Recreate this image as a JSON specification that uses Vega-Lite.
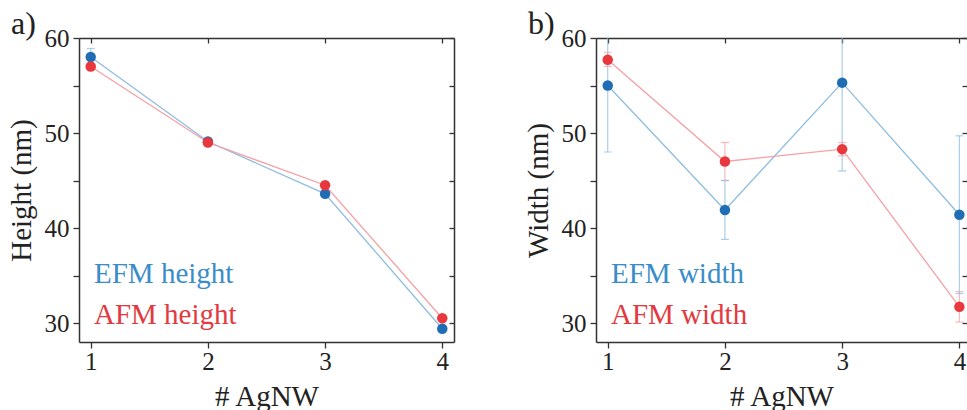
{
  "$schema": "https://vega.github.io/schema/vega-lite/v6.json",
  "background": "white",
  "padding": {"left": 7, "top": 8, "right": 0, "bottom": 0},
  "spacing": 69,
  "config": {
    "font": "Liberation Serif",
    "view": {"stroke": null},
    "axis": {
      "grid": false,
      "domainColor": "#333333",
      "domainWidth": 1.5,
      "tickColor": "#333333",
      "tickWidth": 1.3,
      "labelFont": "Liberation Serif",
      "labelFontSize": 25,
      "labelColor": "#222222",
      "titleFont": "Liberation Serif",
      "titleFontSize": 29,
      "titleFontWeight": "normal",
      "titleColor": "#222222"
    },
    "title": {"font": "Liberation Serif", "fontSize": 32, "fontWeight": "normal", "color": "#222222", "anchor": "start", "frame": "bounds", "offset": -15, "dx": 4}
  },
  "datasets": {
    "heights": [
      {"n": 1, "series": "EFM height", "value": 58.0, "lo": 57.1, "hi": 58.9},
      {"n": 2, "series": "EFM height", "value": 49.1, "lo": 48.8, "hi": 49.4},
      {"n": 3, "series": "EFM height", "value": 43.6, "lo": 43.3, "hi": 43.9},
      {"n": 4, "series": "EFM height", "value": 29.4, "lo": 29.1, "hi": 29.7},
      {"n": 1, "series": "AFM height", "value": 57.0, "lo": 56.8, "hi": 57.2},
      {"n": 2, "series": "AFM height", "value": 49.0, "lo": 48.8, "hi": 49.2},
      {"n": 3, "series": "AFM height", "value": 44.5, "lo": 44.3, "hi": 44.7},
      {"n": 4, "series": "AFM height", "value": 30.5, "lo": 30.3, "hi": 30.7}
    ],
    "widths": [
      {"n": 1, "series": "EFM width", "value": 55.0, "lo": 48.0, "hi": 62.0},
      {"n": 2, "series": "EFM width", "value": 41.9, "lo": 38.8, "hi": 45.0},
      {"n": 3, "series": "EFM width", "value": 55.3, "lo": 46.0, "hi": 64.6},
      {"n": 4, "series": "EFM width", "value": 41.4, "lo": 33.1, "hi": 49.7},
      {"n": 1, "series": "AFM width", "value": 57.7, "lo": 57.0, "hi": 58.5},
      {"n": 2, "series": "AFM width", "value": 47.0, "lo": 45.0, "hi": 49.0},
      {"n": 3, "series": "AFM width", "value": 48.3, "lo": 47.6, "hi": 49.0},
      {"n": 4, "series": "AFM width", "value": 31.7, "lo": 30.1, "hi": 33.3}
    ]
  },
  "hconcat": [
    {
      "title": "a)",
      "width": 375,
      "height": 304,
      "data": {"name": "heights"},
      "resolve": {"axis": {"x": "independent", "y": "independent"}},
      "layer": [
        {
          "mark": {"type": "rule", "strokeWidth": 1.2, "clip": true, "opacity": 0.75},
          "encoding": {
            "x": {"field": "n", "type": "quantitative", "axis": null, "scale": {"domain": [0.9, 4.1], "nice": false, "zero": false}},
            "y": {"field": "lo", "type": "quantitative", "axis": null, "scale": {"domain": [28, 60], "nice": false, "zero": false}},
            "y2": {"field": "hi"},
            "stroke": {"field": "series", "type": "nominal", "legend": null, "scale": {"domain": ["AFM height", "EFM height"], "range": ["#f5a0a5", "#8dbde0"]}}
          }
        },
        {
          "mark": {"type": "tick", "thickness": 1.2, "size": 8, "orient": "horizontal", "clip": true, "opacity": 0.75},
          "encoding": {
            "x": {"field": "n", "type": "quantitative", "axis": null},
            "y": {"field": "hi", "type": "quantitative", "axis": null},
            "fill": {"field": "series", "type": "nominal", "legend": null, "scale": {"domain": ["AFM height", "EFM height"], "range": ["#f5a0a5", "#8dbde0"]}}
          }
        },
        {
          "mark": {"type": "line", "strokeWidth": 1.3},
          "encoding": {
            "x": {"field": "n", "type": "quantitative", "title": "# AgNW",
              "axis": {"orient": "bottom", "values": [1, 2, 3, 4], "tickSize": 6, "labelPadding": 1, "titlePadding": 8}},
            "y": {"field": "value", "type": "quantitative", "title": "Height (nm)",
              "axis": {"orient": "left", "values": [30, 35, 40, 45, 50, 55, 60], "labelExpr": "datum.value % 10 == 0 ? datum.label : ''", "tickSize": 6, "labelPadding": 4, "titlePadding": 8}},
            "stroke": {"field": "series", "type": "nominal", "legend": null}
          }
        },
        {
          "mark": {"type": "point", "filled": true, "opacity": 1, "size": 110},
          "encoding": {
            "x": {"field": "n", "type": "quantitative", "axis": {"orient": "top", "title": null, "labels": false, "values": [1, 2, 3, 4], "tickSize": -5}},
            "y": {"field": "value", "type": "quantitative", "axis": {"orient": "right", "title": null, "labels": false, "values": [30, 35, 40, 45, 50, 55, 60], "tickSize": -5}},
            "color": {"field": "series", "type": "nominal",
              "scale": {"domain": ["EFM height", "AFM height"], "range": ["#1f6db4", "#e8383d"]},
              "legend": {"orient": "none", "legendX": -14, "legendY": 221, "title": null, "symbolOpacity": 0, "symbolSize": 1, "symbolStrokeWidth": 0, "labelFont": "Liberation Serif", "labelFontSize": 29, "labelOffset": 0, "rowPadding": 11, "padding": 0,
                "encode": {"labels": {"update": {"fill": {"signal": "datum.label == 'EFM height' ? '#3a8dc8' : '#e23a40'"}}}}}
            }
          }
        }
      ]
    },
    {
      "title": "b)",
      "width": 371,
      "height": 304,
      "data": {"name": "widths"},
      "resolve": {"axis": {"x": "independent", "y": "independent"}},
      "layer": [
        {
          "mark": {"type": "rule", "strokeWidth": 1.2, "clip": true, "opacity": 0.75},
          "encoding": {
            "x": {"field": "n", "type": "quantitative", "axis": null, "scale": {"domain": [0.9, 4.065], "nice": false, "zero": false}},
            "y": {"field": "lo", "type": "quantitative", "axis": null, "scale": {"domain": [28, 60], "nice": false, "zero": false}},
            "y2": {"field": "hi"},
            "stroke": {"field": "series", "type": "nominal", "legend": null, "scale": {"domain": ["AFM width", "EFM width"], "range": ["#f5a0a5", "#8dbde0"]}}
          }
        },
        {
          "mark": {"type": "tick", "thickness": 1.2, "size": 8, "orient": "horizontal", "clip": true, "opacity": 0.75},
          "encoding": {
            "x": {"field": "n", "type": "quantitative", "axis": null},
            "y": {"field": "lo", "type": "quantitative", "axis": null},
            "fill": {"field": "series", "type": "nominal", "legend": null, "scale": {"domain": ["AFM width", "EFM width"], "range": ["#f5a0a5", "#8dbde0"]}}
          }
        },
        {
          "mark": {"type": "tick", "thickness": 1.2, "size": 8, "orient": "horizontal", "clip": true, "opacity": 0.75},
          "encoding": {
            "x": {"field": "n", "type": "quantitative", "axis": null},
            "y": {"field": "hi", "type": "quantitative", "axis": null},
            "fill": {"field": "series", "type": "nominal", "legend": null}
          }
        },
        {
          "mark": {"type": "line", "strokeWidth": 1.3},
          "encoding": {
            "x": {"field": "n", "type": "quantitative", "title": "# AgNW",
              "axis": {"orient": "bottom", "values": [1, 2, 3, 4], "tickSize": 6, "labelPadding": 1, "titlePadding": 8}},
            "y": {"field": "value", "type": "quantitative", "title": "Width (nm)",
              "axis": {"orient": "left", "values": [30, 35, 40, 45, 50, 55, 60], "labelExpr": "datum.value % 10 == 0 ? datum.label : ''", "tickSize": 6, "labelPadding": 4, "titlePadding": 8}},
            "stroke": {"field": "series", "type": "nominal", "legend": null}
          }
        },
        {
          "mark": {"type": "point", "filled": true, "opacity": 1, "size": 110},
          "encoding": {
            "x": {"field": "n", "type": "quantitative", "axis": {"orient": "top", "title": null, "labels": false, "values": [1, 2, 3, 4], "tickSize": -5}},
            "y": {"field": "value", "type": "quantitative", "axis": {"orient": "right", "title": null, "labels": false, "domain": false, "values": [30, 35, 40, 45, 50, 55, 60], "tickSize": -5}},
            "color": {"field": "series", "type": "nominal",
              "scale": {"domain": ["EFM width", "AFM width"], "range": ["#1f6db4", "#e8383d"]},
              "legend": {"orient": "none", "legendX": -14, "legendY": 221, "title": null, "symbolOpacity": 0, "symbolSize": 1, "symbolStrokeWidth": 0, "labelFont": "Liberation Serif", "labelFontSize": 29, "labelOffset": 0, "rowPadding": 11, "padding": 0,
                "encode": {"labels": {"update": {"fill": {"signal": "datum.label == 'EFM width' ? '#3a8dc8' : '#e23a40'"}}}}}
            }
          }
        }
      ]
    }
  ],
  "resolve": {"scale": {"x": "independent", "y": "independent", "color": "independent", "stroke": "independent", "fill": "independent"}, "legend": {"color": "independent"}}
}
